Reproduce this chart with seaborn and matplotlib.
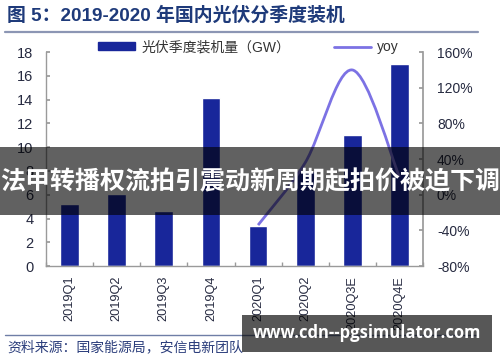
import numpy as np
import matplotlib
matplotlib.use('Agg')
import matplotlib.pyplot as plt
import seaborn as sns
from matplotlib.path import Path
from matplotlib.patches import PathPatch, Patch, Rectangle
from matplotlib.lines import Line2D

quarters = ['2019Q1', '2019Q2', '2019Q3', '2019Q4', '2020Q1', '2020Q2', '2020Q3E', '2020Q4E']
installed_gw = [5.2, 6.1, 4.6, 14.1, 3.4, 8.0, 11.0, 17.0]
yoy_quarters = ['2020Q1', '2020Q2', '2020Q3E', '2020Q4E']
yoy = [-0.34, 0.36, 1.40, 0.20]
left_ticks = list(range(0, 19, 2))
right_ticks = [-0.8, -0.4, 0.0, 0.4, 0.8, 1.2, 1.6]
right_labels = ['-80%', '-40%', '0%', '40%', '80%', '120%', '160%']

sns.set_theme(style='white')
plt.rcParams['font.family'] = ['Liberation Sans', 'Noto Sans CJK SC']

bar_color = '#18269a'
line_color = '#7c72e4'
spine_color = '#9a9a9a'
label_color = '#262a40'

fig = plt.figure(figsize=(5, 3.62), dpi=100)
ax = fig.add_axes([0.092, 0.265, 0.754, 0.591])
sns.barplot(x=quarters, y=installed_gw, color=bar_color, saturation=1, width=0.4, ax=ax)
ax.set_xlim(-0.5, 7.5)
ax.set_ylim(0, 18)
ax.set_yticks(left_ticks)
ax.set_xlabel('')
ax.set_ylabel('')
ax.set_xticks(np.arange(-0.5, 8, 1), minor=True)
ax.tick_params(axis='x', which='major', length=0, labelrotation=90, labelsize=9.2,
               labelcolor=label_color, pad=7)
ax.tick_params(axis='x', which='minor', bottom=True, direction='in', length=3, color=spine_color)
ax.tick_params(axis='y', left=True, direction='in', length=3, color=spine_color,
               labelsize=10.5, labelcolor=label_color, pad=9)
for side in ['left', 'bottom']:
    ax.spines[side].set_color(spine_color)
    ax.spines[side].set_linewidth(1)
ax.spines['top'].set_visible(False)
ax.spines['right'].set_visible(False)

ax2 = ax.twinx()
ax2.set_ylim(-0.8, 1.6)
ax2.set_yticks(right_ticks)
ax2.set_yticklabels(right_labels)
ax2.tick_params(axis='y', right=True, direction='in', length=3, color=spine_color,
                labelsize=10, labelcolor=label_color, pad=10)
for side in ['top', 'left', 'bottom']:
    ax2.spines[side].set_visible(False)
ax2.spines['right'].set_color(spine_color)
ax2.grid(False)

# smoothed yoy line (Excel style smooth curve through the points)
pts = np.column_stack([[quarters.index(q) for q in yoy_quarters], yoy]).astype(float)
verts = [pts[0]]
codes = [Path.MOVETO]
for i in range(len(pts) - 1):
    p0 = pts[max(i - 1, 0)]
    p1, p2 = pts[i], pts[i + 1]
    p3 = pts[min(i + 2, len(pts) - 1)]
    verts += [p1 + (p2 - p0) / 6, p2 - (p3 - p1) / 6, p2]
    codes += [Path.CURVE4] * 3
ax2.add_patch(PathPatch(Path(verts, codes), fill=False, ec=line_color, lw=2))

handles = [Patch(color=bar_color), Line2D([], [], color=line_color, lw=2)]
fig.legend(handles, ['光伏季度装机量（GW）', 'yoy'], loc='center', bbox_to_anchor=(0.497, 0.87),
           ncol=2, frameon=False, fontsize=10, handlelength=2.7, handleheight=0.5,
           handletextpad=0.45, columnspacing=3.1, labelcolor='#333333')

fig.text(0.014, 0.957, '图 5：2019-2020 年国内光伏分季度装机', fontsize=13.6, fontweight='bold',
         color='#1e3a7a', va='center')
fig.add_artist(Line2D([0.01, 0.956], [0.912, 0.912], transform=fig.transFigure,
                      color='#8c96b4', lw=1.6))
fig.add_artist(Line2D([0.01, 0.956], [0.075, 0.075], transform=fig.transFigure,
                      color='#6f7ea6', lw=1))
fig.text(0.014, 0.041, '资料来源：国家能源局，安信电新团队', fontsize=10, color='#2c3e7c', va='center')

# overlay banner and watermark
fig.add_artist(Rectangle((0, 0.406), 1, 0.188, transform=fig.transFigure,
                         color='black', alpha=0.62, lw=0, zorder=5))
fig.text(0.5, 0.497, '法甲转播权流拍引震动新周期起拍价被迫下调', fontsize=18, fontweight='bold',
         color='white', ha='center', va='center', family=['Noto Sans CJK SC', 'DejaVu Sans'], zorder=6)
fig.add_artist(Rectangle((0.484, 0.028), 0.5, 0.102, transform=fig.transFigure,
                         color='black', alpha=0.66, lw=0, zorder=5))
fig.text(0.734, 0.079, 'www.cdn--pgsimulator.com', fontsize=12, fontweight='bold',
         color='white', ha='center', va='center', family=['Open Sans', 'DejaVu Sans'], zorder=6)

fig.savefig('out.png', dpi=100)
